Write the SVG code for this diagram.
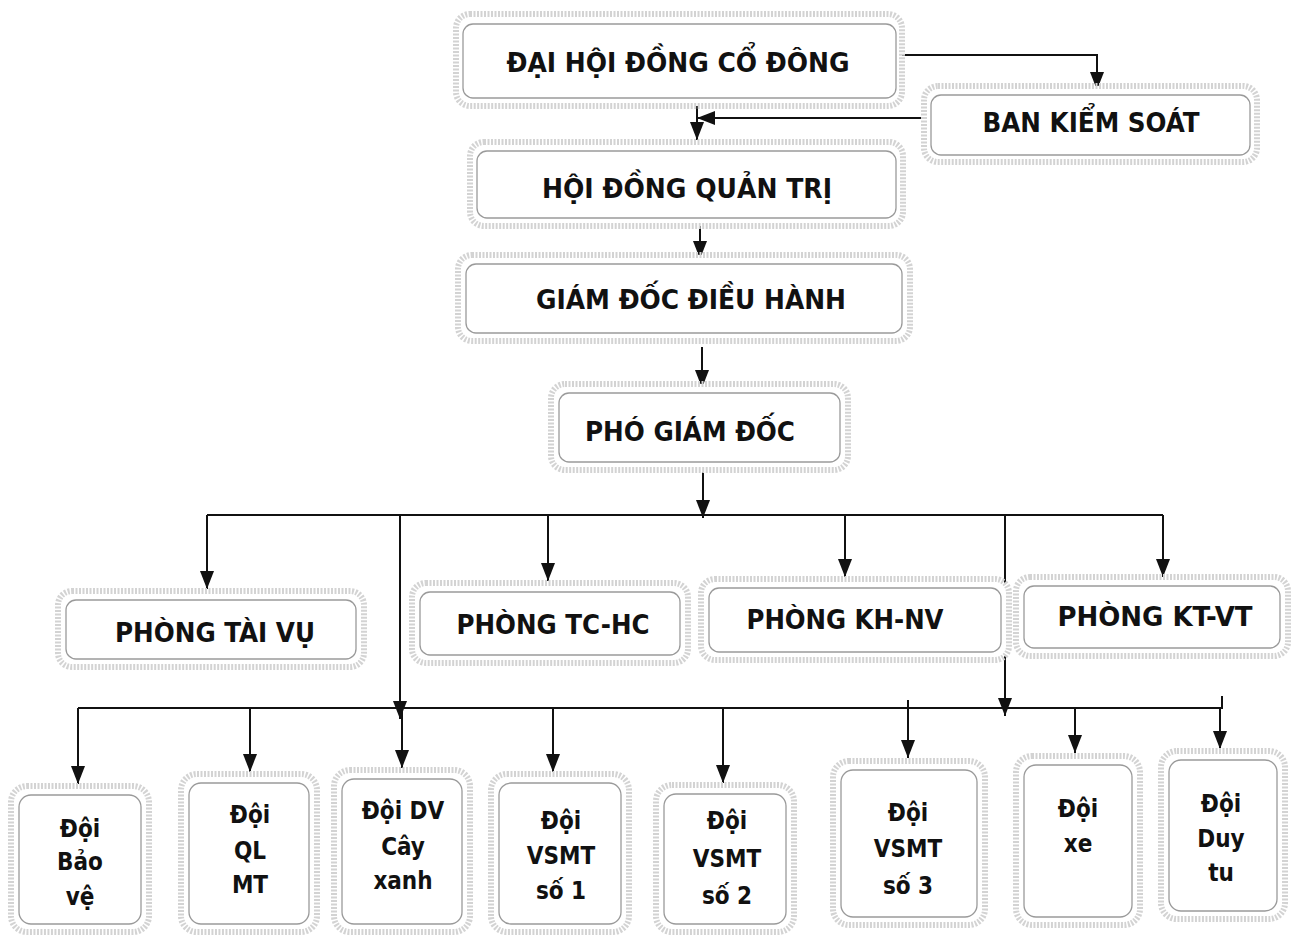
<svg xmlns="http://www.w3.org/2000/svg" width="1291" height="935" viewBox="0 0 1291 935">
<style>
.outer{fill:#fff;stroke:#d3d3d3;stroke-width:6;stroke-dasharray:2 1.5}
.inner{fill:#fff;stroke:#9a9a9a;stroke-width:1.3}
.t{font-family:"DejaVu Sans Condensed","DejaVu Sans",sans-serif;font-stretch:condensed;font-weight:bold;fill:#111;text-anchor:middle}
.big{font-size:27px}
.mid{font-size:26px}
.sm{font-size:24px}
.ln{fill:none;stroke:#111;stroke-width:2}
</style>
<defs>
<marker id="arr" markerUnits="userSpaceOnUse" markerWidth="18" markerHeight="14" viewBox="0 0 18 14" refX="18" refY="7" orient="auto">
<path d="M0,0 L18,7 L0,14 Z" fill="#111"/>
</marker>
</defs>
<rect width="1291" height="935" fill="#fff"/>

<g id="connectors">
<path class="ln" d="M900 55 H1097 V90" marker-end="url(#arr)"/>
<path class="ln" d="M923 118 H697" marker-end="url(#arr)"/>
<path class="ln" d="M697 106 V140" marker-end="url(#arr)"/>
<path class="ln" d="M700 225 V259" marker-end="url(#arr)"/>
<path class="ln" d="M702 347 V388" marker-end="url(#arr)"/>
<path class="ln" d="M703 472 V518" marker-end="url(#arr)"/>
<path class="ln" d="M207 515 H1163"/>
<path class="ln" d="M207 515 V589" marker-end="url(#arr)"/>
<path class="ln" d="M548 515 V581" marker-end="url(#arr)"/>
<path class="ln" d="M845 515 V577" marker-end="url(#arr)"/>
<path class="ln" d="M1163 515 V577" marker-end="url(#arr)"/>
<path class="ln" d="M400 515 V719" marker-end="url(#arr)"/>
<path class="ln" d="M1005 515 V716" marker-end="url(#arr)"/>
<path class="ln" d="M78 708 H1222 V696"/>
<path class="ln" d="M78 708 V784" marker-end="url(#arr)"/>
<path class="ln" d="M250 708 V772" marker-end="url(#arr)"/>
<path class="ln" d="M402 708 V768" marker-end="url(#arr)"/>
<path class="ln" d="M553 708 V772" marker-end="url(#arr)"/>
<path class="ln" d="M723 708 V783" marker-end="url(#arr)"/>
<path class="ln" d="M908 700 V758" marker-end="url(#arr)"/>
<path class="ln" d="M1075 708 V753" marker-end="url(#arr)"/>
<path class="ln" d="M1220 708 V749" marker-end="url(#arr)"/>
</g>

<g id="dhdcd">
<rect class="outer" x="456" y="14" width="446" height="92" rx="14"/>
<rect class="inner" x="463" y="24" width="433" height="74" rx="10"/>
<text class="t big" x="678" y="72" textLength="343" lengthAdjust="spacingAndGlyphs">ĐẠI HỘI ĐỒNG CỔ ĐÔNG</text>
</g>
<g id="bks">
<rect class="outer" x="924" y="86" width="333" height="76" rx="14"/>
<rect class="inner" x="931" y="95" width="319" height="60" rx="10"/>
<text class="t big" x="1091" y="132" textLength="217" lengthAdjust="spacingAndGlyphs">BAN KIỂM SOÁT</text>
</g>
<g id="hdqt">
<rect class="outer" x="470" y="142" width="433" height="84" rx="14"/>
<rect class="inner" x="477" y="151" width="419" height="67" rx="10"/>
<text class="t big" x="687" y="198" textLength="290" lengthAdjust="spacingAndGlyphs">HỘI ĐỒNG QUẢN TRỊ</text>
</g>
<g id="gddh">
<rect class="outer" x="458" y="255" width="452" height="86" rx="14"/>
<rect class="inner" x="466" y="264" width="436" height="69" rx="10"/>
<text class="t big" x="691" y="309" textLength="310" lengthAdjust="spacingAndGlyphs">GIÁM ĐỐC ĐIỀU HÀNH</text>
</g>
<g id="pgd">
<rect class="outer" x="551" y="384" width="297" height="86" rx="14"/>
<rect class="inner" x="559" y="393" width="281" height="69" rx="10"/>
<text class="t big" x="690" y="441" textLength="210" lengthAdjust="spacingAndGlyphs">PHÓ GIÁM ĐỐC</text>
</g>

<g id="tv">
<rect class="outer" x="58" y="591" width="306" height="76" rx="14"/>
<rect class="inner" x="66" y="600" width="290" height="59" rx="10"/>
<text class="t mid" x="215" y="642" textLength="200" lengthAdjust="spacingAndGlyphs">PHÒNG TÀI VỤ</text>
</g>
<g id="tchc">
<rect class="outer" x="412" y="583" width="276" height="80" rx="14"/>
<rect class="inner" x="420" y="592" width="260" height="63" rx="10"/>
<text class="t mid" x="553" y="634" textLength="193" lengthAdjust="spacingAndGlyphs">PHÒNG TC-HC</text>
</g>
<g id="khnv">
<rect class="outer" x="701" y="579" width="308" height="81" rx="14"/>
<rect class="inner" x="709" y="588" width="292" height="64" rx="10"/>
<text class="t mid" x="845" y="629" textLength="197" lengthAdjust="spacingAndGlyphs">PHÒNG KH-NV</text>
</g>
<g id="ktvt">
<rect class="outer" x="1016" y="577" width="272" height="79" rx="14"/>
<rect class="inner" x="1024" y="586" width="256" height="62" rx="10"/>
<text class="t mid" x="1155" y="626" textLength="195" lengthAdjust="spacingAndGlyphs">PHÒNG KT-VT</text>
</g>

<g id="baove">
<rect class="outer" x="11" y="786" width="138" height="146" rx="16"/>
<rect class="inner" x="19" y="795" width="122" height="129" rx="12"/>
<text class="t sm" x="80" y="837">Đội</text>
<text class="t sm" x="80" y="870">Bảo</text>
<text class="t sm" x="80" y="905">vệ</text>
</g>
<g id="qlmt">
<rect class="outer" x="181" y="774" width="136" height="158" rx="16"/>
<rect class="inner" x="189" y="783" width="120" height="141" rx="12"/>
<text class="t sm" x="250" y="823">Đội</text>
<text class="t sm" x="250" y="859">QL</text>
<text class="t sm" x="250" y="893">MT</text>
</g>
<g id="dvcx">
<rect class="outer" x="334" y="770" width="136" height="162" rx="16"/>
<rect class="inner" x="342" y="779" width="120" height="145" rx="12"/>
<text class="t sm" x="403" y="819">Đội  DV</text>
<text class="t sm" x="403" y="855">Cây</text>
<text class="t sm" x="403" y="889">xanh</text>
</g>
<g id="vsmt1">
<rect class="outer" x="491" y="774" width="138" height="158" rx="16"/>
<rect class="inner" x="499" y="783" width="122" height="141" rx="12"/>
<text class="t sm" x="561" y="829">Đội</text>
<text class="t sm" x="561" y="864">VSMT</text>
<text class="t sm" x="561" y="899">số 1</text>
</g>
<g id="vsmt2">
<rect class="outer" x="656" y="785" width="138" height="147" rx="16"/>
<rect class="inner" x="664" y="794" width="122" height="130" rx="12"/>
<text class="t sm" x="727" y="829">Đội</text>
<text class="t sm" x="727" y="867">VSMT</text>
<text class="t sm" x="727" y="904">số 2</text>
</g>
<g id="vsmt3">
<rect class="outer" x="833" y="761" width="152" height="164" rx="16"/>
<rect class="inner" x="841" y="770" width="136" height="147" rx="12"/>
<text class="t sm" x="908" y="821">Đội</text>
<text class="t sm" x="908" y="857">VSMT</text>
<text class="t sm" x="908" y="894">số 3</text>
</g>
<g id="xe">
<rect class="outer" x="1016" y="756" width="124" height="169" rx="16"/>
<rect class="inner" x="1024" y="765" width="108" height="152" rx="12"/>
<text class="t sm" x="1078" y="817">Đội</text>
<text class="t sm" x="1078" y="852">xe</text>
</g>
<g id="duytu">
<rect class="outer" x="1161" y="751" width="124" height="168" rx="16"/>
<rect class="inner" x="1169" y="760" width="108" height="151" rx="12"/>
<text class="t sm" x="1221" y="812">Đội</text>
<text class="t sm" x="1221" y="847">Duy</text>
<text class="t sm" x="1221" y="881">tu</text>
</g>
</svg>
